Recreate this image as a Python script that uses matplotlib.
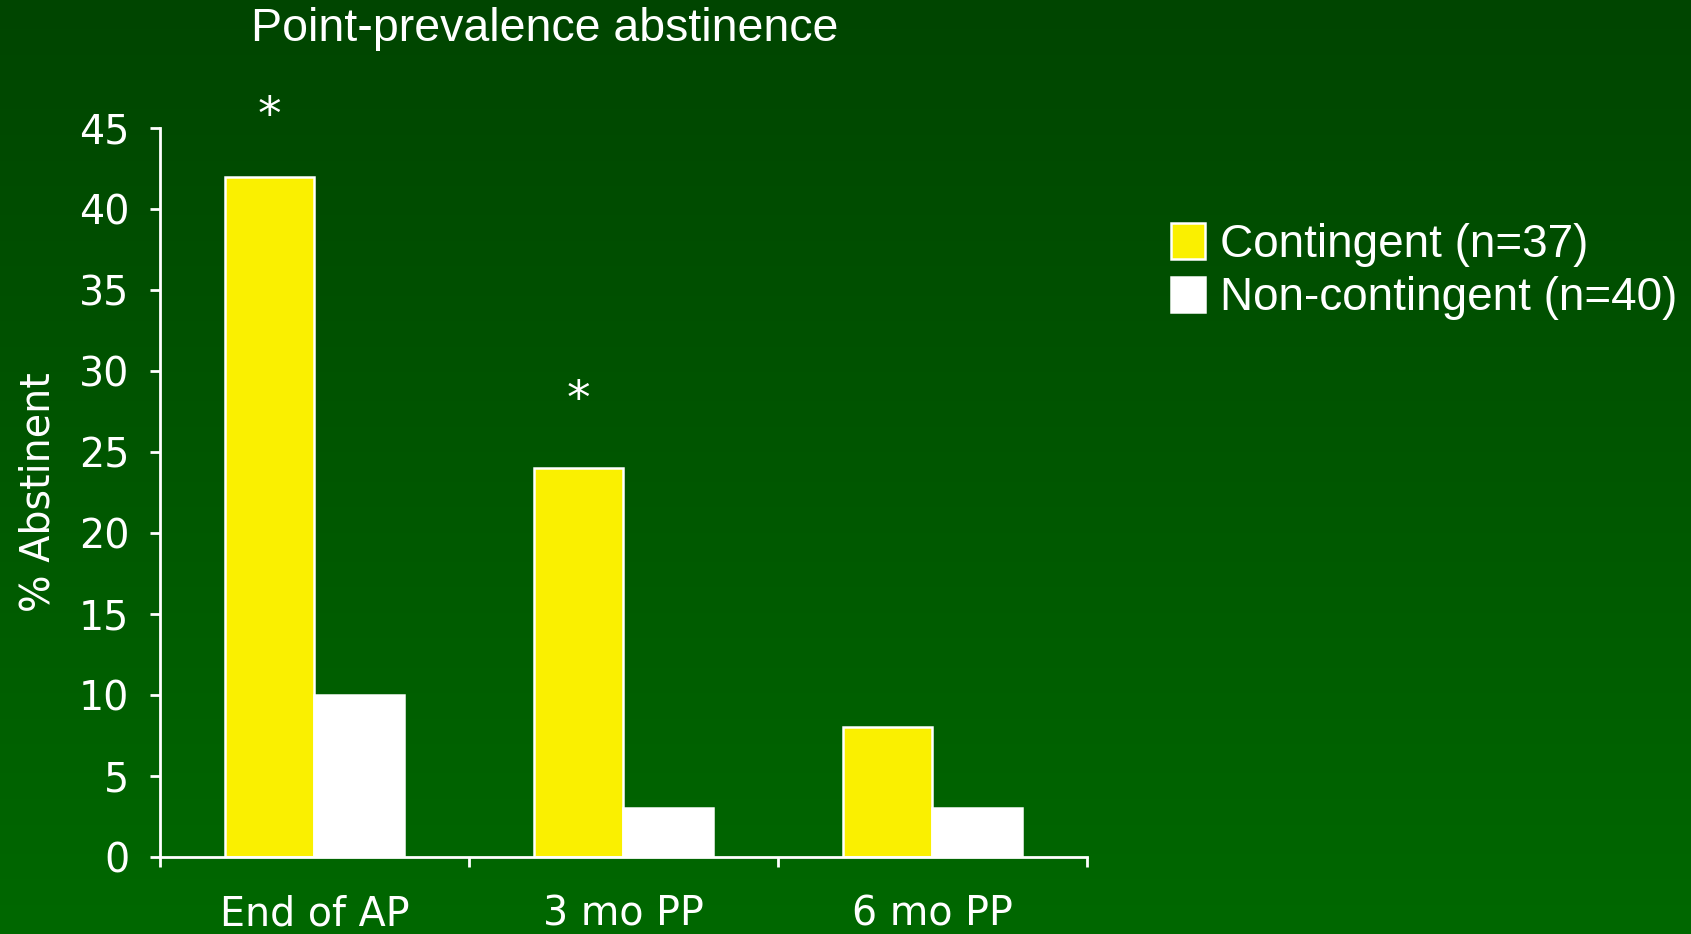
import numpy as np
import matplotlib
matplotlib.use("Agg")
import matplotlib.pyplot as plt
from matplotlib.colors import LinearSegmentedColormap

# data
timepoints = ["End of AP", "3 mo PP", "6 mo PP"]
contingent = [42, 24, 8]
non_contingent = [10, 3, 3]
star_level = [45.7, 28.2, None]   # height of the significance marks
group_labels = ["Contingent (n=37)", "Non-contingent (n=40)"]

yellow = "#FAF000"
white = "#FFFFFF"

fig = plt.figure(figsize=(16.91, 9.34), dpi=100)

# green background gradient, darker at the top
bg = fig.add_axes([0, 0, 1, 1], zorder=-10)
grad = np.linspace(0, 1, 256).reshape(-1, 1)
cmap = LinearSegmentedColormap.from_list("bg", ["#004500", "#006800"])
bg.imshow(grad, aspect="auto", cmap=cmap, extent=[0, 1, 0, 1], origin="upper")
bg.axis("off")

ax = fig.add_axes([0.0946, 0.0824, 0.548, 0.7806])
ax.patch.set_alpha(0)

x = np.arange(len(timepoints))
w = 0.29
b1 = ax.bar(x - w / 2, contingent, w, color=yellow, edgecolor=white, linewidth=1.8,
            label=group_labels[0])
b2 = ax.bar(x + w / 2, non_contingent, w, color=white, edgecolor=white, linewidth=1.8,
            label=group_labels[1])

for xi, lvl in zip(x, star_level):
    if lvl is not None:
        ax.text(xi - w / 2, lvl, "*", ha="center", va="center", color=white,
                fontsize=34, family="DejaVu Sans")

ax.set_xlim(-0.5, 2.5)
ax.set_ylim(0, 45)
ax.set_yticks(range(0, 46, 5))
ax.set_xticks([-0.5, 0.5, 1.5, 2.5])
ax.set_xticklabels([])
ax.set_xticks(x, minor=True)
ax.set_xticklabels(timepoints, minor=True)

for s in ["top", "right"]:
    ax.spines[s].set_visible(False)
for s in ["left", "bottom"]:
    ax.spines[s].set_color(white)
    ax.spines[s].set_linewidth(2)

ax.tick_params(axis="both", which="major", colors=white, width=2, length=7,
               labelsize=28.5, direction="out")
ax.tick_params(axis="y", pad=15)
ax.tick_params(axis="x", which="minor", length=0, labelsize=28.5, colors=white, pad=27)

ax.set_ylabel("% Abstinent", color=white, fontsize=28.5, labelpad=15)

fig.text(0.1485, 0.969, "Point-prevalence abstinence", color=white, fontsize=33.5,
         family="Liberation Sans", va="center", ha="left")

fig.legend(handles=[b1, b2], loc="center left", bbox_to_anchor=(0.6925, 0.709),
           frameon=False, labelcolor=white, handlelength=0.74,
           handleheight=0.82, handletextpad=0.33, labelspacing=0.2,
           borderpad=0, borderaxespad=0, prop={"family": "Liberation Sans", "size": 33})

fig.savefig("out.png", dpi=100)
